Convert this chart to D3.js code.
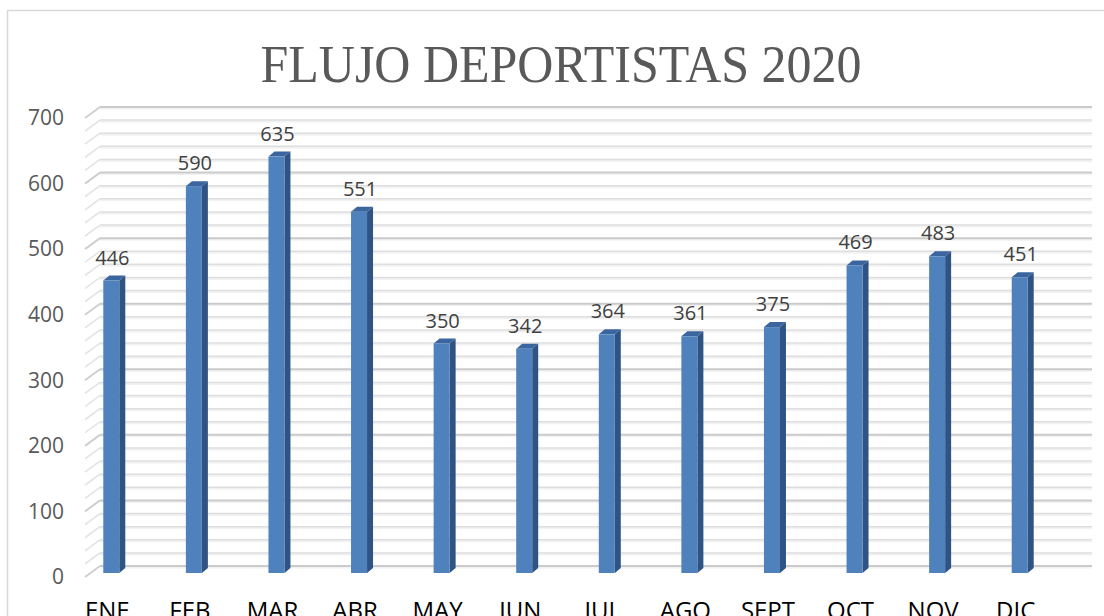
<!DOCTYPE html>
<html><head><meta charset="utf-8">
<script src="https://cdn.jsdelivr.net/npm/d3@7"></script>
<style>body{margin:0;background:#fff;overflow:hidden}svg{display:block}</style>
</head><body><svg id="c" width="1104" height="616"></svg>
<script>
const title = "FLUJO DEPORTISTAS 2020";
const months = ["ENE","FEB","MAR","ABR","MAY","JUN","JUL","AGO","SEPT","OCT","NOV","DIC"];
const values = [446,590,635,551,350,342,364,361,375,469,483,451];
const yTicks = [0,100,200,300,400,500,600,700];
const minorTicks = d3.range(0,701,20);

const svg = d3.select("#c");
const W=1104,H=616;
svg.append("rect").attr("x",7.5).attr("y",10.5).attr("width",W).attr("height",H)
  .attr("fill","#fff").attr("stroke","#d9d9d9").attr("stroke-width",1.5);

const dom=[0,700];
const yBack = d3.scaleLinear().domain(dom).range([566,107]);
const yFront = d3.scaleLinear().domain(dom).range([577,118]);
const yBar = d3.scaleLinear().domain(dom).range([573,114]);
const x = d3.scaleBand().domain(months).range([70,1061]);
const wallL=100, wallR=1092, frontL=85;

const g = svg.append("g");
minorTicks.forEach(v=>{
  const major = v%100===0;
  g.append("line").attr("x1",wallL).attr("x2",wallR)
   .attr("y1",yBack(v)+1.5).attr("y2",yBack(v)+1.5)
   .attr("stroke","#f2f2f2").attr("stroke-width",2);
  g.append("line").attr("x1",wallL).attr("x2",wallR)
   .attr("y1",yBack(v)).attr("y2",yBack(v))
   .attr("stroke",major?"#cbcbcb":"#dedede").attr("stroke-width",major?2:1.5);
  g.append("line").attr("x1",frontL).attr("x2",wallL)
   .attr("y1",yFront(v)).attr("y2",yBack(v))
   .attr("stroke",major?"#cfcfcf":"#e2e2e2").attr("stroke-width",major?2:1.5);
});

svg.append("g").selectAll("text").data(yTicks).join("text")
  .attr("x",64).attr("y",d=>yFront(d)).attr("dy","0.35em")
  .attr("text-anchor","end").attr("font-family","Open Sans, Liberation Sans, sans-serif")
  .attr("font-size",21).attr("fill","#595959").text(d=>d);

const bw=16, dx=6, dy=-5;
const bars = svg.append("g").selectAll("g").data(values).join("g");
bars.each(function(v,i){
  const gg=d3.select(this);
  const cx = x(months[i])+x.bandwidth()/2;
  const x0=cx-bw/2, x1=cx+bw/2, yt=yBar(v), yb=yBar(0);
  gg.append("path").attr("d",`M${x1},${yb}L${x1+dx},${yb+dy}L${x1+dx},${yt+dy}L${x1},${yt}Z`).attr("fill","#2f5382");
  gg.append("path").attr("d",`M${x0},${yt}L${x1},${yt}L${x1+dx},${yt+dy}L${x0+dx},${yt+dy}Z`).attr("fill","#3b659e");
  gg.append("rect").attr("x",x0).attr("y",yt).attr("width",bw).attr("height",yb-yt).attr("fill","#4f81bd");
  gg.append("text").attr("x",cx+1).attr("y",yt-16)
   .attr("text-anchor","middle").attr("font-family","Open Sans, Liberation Sans, sans-serif")
   .attr("font-size",20).attr("fill","#404040").text(v);
});

svg.append("g").selectAll("text").data(months).join("text")
  .attr("x",d=>x(d)+x.bandwidth()/2-4).attr("y",619)
  .attr("text-anchor","middle").attr("font-family","Open Sans, Liberation Sans, sans-serif")
  .attr("font-size",24).attr("fill","#000").text(d=>d);

svg.append("text").attr("x",561).attr("y",82).attr("text-anchor","middle")
  .attr("font-family","Liberation Serif, DejaVu Serif, serif").attr("font-size",52)
  .attr("textLength",601).attr("lengthAdjust","spacingAndGlyphs")
  .attr("fill","#595959").text(title);
</script></body></html>
